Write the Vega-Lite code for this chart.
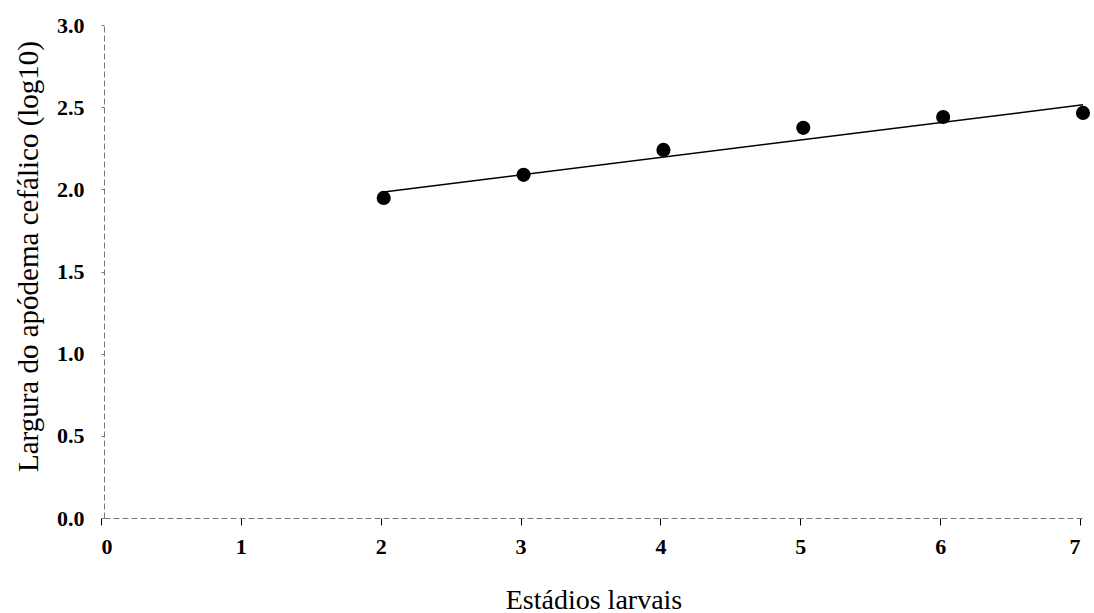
{
  "$schema": "https://vega.github.io/schema/vega-lite/v6.json",
  "autosize": {"type": "none"},
  "width": 979,
  "height": 493,
  "padding": {"left": 104, "top": 25, "right": 11, "bottom": 95},
  "background": "white",
  "config": {
    "view": {"stroke": null},
    "font": "Liberation Serif"
  },
  "datasets": {
    "pontos": [
      {"estadio": 2, "largura": 1.948},
      {"estadio": 3, "largura": 2.088},
      {"estadio": 4, "largura": 2.24},
      {"estadio": 5, "largura": 2.374},
      {"estadio": 6, "largura": 2.44},
      {"estadio": 7, "largura": 2.465}
    ],
    "ajuste": [
      {"estadio": 2, "largura": 1.984},
      {"estadio": 7, "largura": 2.514}
    ]
  },
  "layer": [
    {
      "data": {"name": "ajuste"},
      "mark": {"type": "line", "color": "black", "strokeWidth": 1.5},
      "encoding": {
        "x": {"field": "estadio", "type": "quantitative"},
        "y": {"field": "largura", "type": "quantitative"}
      }
    },
    {
      "data": {"name": "pontos"},
      "mark": {"type": "point", "filled": true, "color": "black", "size": 200, "opacity": 1},
      "encoding": {
        "x": {
          "field": "estadio",
          "type": "quantitative",
          "scale": {"domain": [0, 7], "nice": false, "zero": true},
          "axis": {
            "title": "Estádios larvais",
            "titleFont": "Liberation Serif",
            "titleFontSize": 28,
            "titleFontWeight": "normal",
            "titleColor": "black",
            "titlePadding": 29,
            "values": [0, 1, 2, 3, 4, 5, 6, 7],
            "format": "d",
            "labelFont": "Liberation Serif",
            "labelFontSize": 22,
            "labelFontWeight": "bold",
            "labelColor": "black",
            "labelPadding": 11,
            "grid": false,
            "domainColor": "#777",
            "domainDash": [6, 3],
            "domainWidth": 1,
            "tickColor": "black",
            "tickSize": 7,
            "tickOffset": -3
          }
        },
        "y": {
          "field": "largura",
          "type": "quantitative",
          "scale": {"domain": [0, 3], "nice": false},
          "axis": {
            "title": "Largura do apódema cefálico (log10)",
            "titleFont": "Liberation Serif",
            "titleFontSize": 29,
            "titleFontWeight": "normal",
            "titleColor": "black",
            "titlePadding": 13,
            "titleY": 231,
            "values": [0, 0.5, 1, 1.5, 2, 2.5, 3],
            "format": ".1f",
            "labelFont": "Liberation Serif",
            "labelFontSize": 22,
            "labelFontWeight": "bold",
            "labelColor": "black",
            "labelPadding": 17,
            "grid": false,
            "domainColor": "#777",
            "domainDash": [6, 3],
            "domainWidth": 1,
            "tickColor": "#777",
            "tickSize": 3
          }
        }
      }
    }
  ]
}
